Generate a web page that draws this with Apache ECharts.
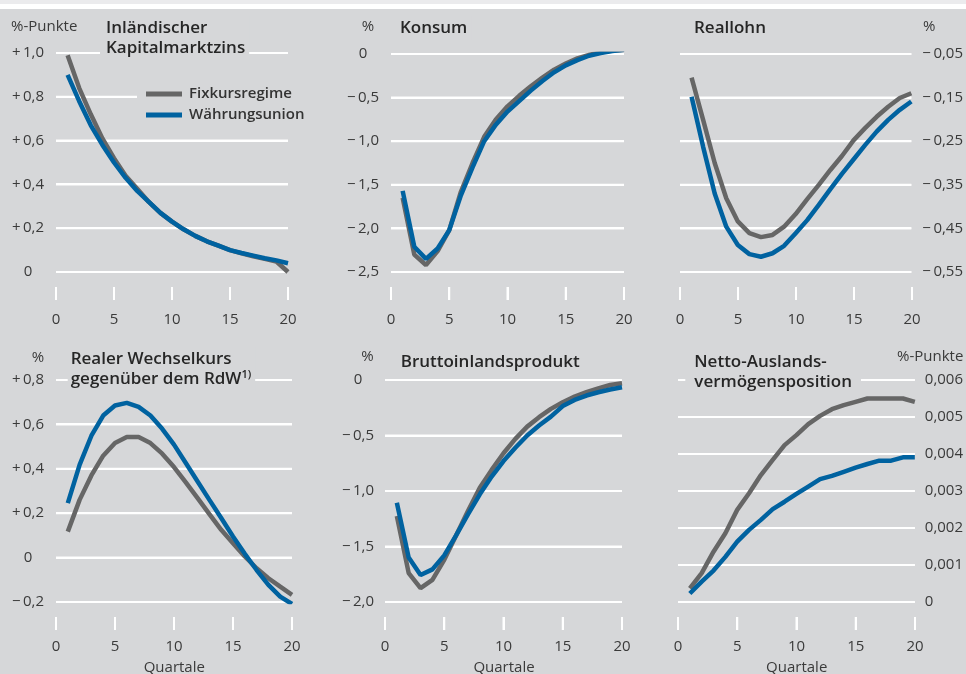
<!DOCTYPE html>
<html><head><meta charset="utf-8">
<script src="https://cdn.jsdelivr.net/npm/echarts@6/dist/echarts.min.js"></script>
<style>
html,body{margin:0;padding:0;background:#d6d7d9}
#wrap{position:relative;width:966px;height:674px;overflow:hidden}
.p{position:absolute;width:322px;height:337px}
</style>
</head><body><div id="wrap">
<div class="p" id="p0" style="left:0;top:0"></div><div class="p" id="p1" style="left:322px;top:0"></div><div class="p" id="p2" style="left:644px;top:0"></div>
<div class="p" id="p3" style="left:0;top:337px"></div><div class="p" id="p4" style="left:322px;top:337px"></div><div class="p" id="p5" style="left:644px;top:337px"></div>
</div><script>
// ---------- data ----------
const quarters = [1,2,3,4,5,6,7,8,9,10,11,12,13,14,15,16,17,18,19,20];
const seriesNames = ['Fixkursregime', 'Währungsunion'];

const zinsFix = [0.99,0.84,0.72,0.61,0.52,0.44,0.38,0.32,0.27,0.23,0.195,0.165,0.14,0.12,0.10,0.085,0.072,0.06,0.048,0.0];
const zinsWU  = [0.90,0.78,0.67,0.58,0.50,0.43,0.37,0.32,0.27,0.23,0.195,0.165,0.14,0.12,0.10,0.087,0.075,0.063,0.053,0.04];

const konsumFix = [-1.65,-2.30,-2.42,-2.26,-2.02,-1.58,-1.25,-0.95,-0.75,-0.60,-0.48,-0.37,-0.27,-0.18,-0.11,-0.05,-0.01,0.02,0.04,0.05];
const konsumWU  = [-1.57,-2.21,-2.35,-2.23,-2.02,-1.62,-1.30,-1.00,-0.81,-0.66,-0.54,-0.42,-0.31,-0.21,-0.13,-0.07,-0.02,0.01,0.035,0.05];

const lohnFix = [-0.104,-0.201,-0.300,-0.381,-0.434,-0.461,-0.470,-0.465,-0.446,-0.417,-0.383,-0.350,-0.316,-0.284,-0.248,-0.220,-0.194,-0.171,-0.151,-0.140];
const lohnWU  = [-0.148,-0.263,-0.370,-0.446,-0.488,-0.509,-0.515,-0.507,-0.490,-0.461,-0.431,-0.396,-0.360,-0.325,-0.292,-0.259,-0.228,-0.201,-0.178,-0.159];

const wkFix = [0.117,0.26,0.37,0.459,0.516,0.543,0.543,0.516,0.468,0.408,0.339,0.268,0.196,0.125,0.065,0.005,-0.048,-0.093,-0.131,-0.168];
const wkWU  = [0.245,0.418,0.549,0.640,0.685,0.697,0.679,0.640,0.580,0.509,0.426,0.343,0.260,0.178,0.095,0.017,-0.056,-0.123,-0.176,-0.209];

const bipFix = [-1.225,-1.74,-1.875,-1.80,-1.62,-1.40,-1.18,-0.97,-0.81,-0.66,-0.53,-0.42,-0.335,-0.26,-0.20,-0.15,-0.11,-0.075,-0.045,-0.03];
const bipWU  = [-1.105,-1.60,-1.757,-1.706,-1.58,-1.40,-1.21,-1.03,-0.87,-0.73,-0.61,-0.50,-0.41,-0.33,-0.235,-0.18,-0.14,-0.11,-0.085,-0.065];

const nafFix = [0.00037,0.00078,0.00136,0.00186,0.00249,0.00294,0.00343,0.00384,0.00424,0.00451,0.00481,0.00503,0.00521,0.00532,0.00541,0.0055,0.0055,0.0055,0.0055,0.00541];
const nafWU  = [0.00023,0.00055,0.00085,0.00122,0.00163,0.00195,0.00222,0.00251,0.00271,0.00292,0.00312,0.00332,0.00341,0.00352,0.00363,0.00373,0.00382,0.00382,0.00391,0.00391];

const xTickValues = [0,5,10,15,20];
const xTickLabels = ['0','5','10','15','20'];
const T = '\u2009', M = '\u2212';
const zinsTicks   = ['0','+'+T+'0,2','+'+T+'0,4','+'+T+'0,6','+'+T+'0,8','+'+T+'1,0'];
const konsumTicks = [M+T+'2,5',M+T+'2,0',M+T+'1,5',M+T+'1,0',M+T+'0,5','0'];
const lohnTicks   = [M+T+'0,55',M+T+'0,45',M+T+'0,35',M+T+'0,25',M+T+'0,15',M+T+'0,05'];
const wkTicks     = [M+T+'0,2','0','+'+T+'0,2','+'+T+'0,4','+'+T+'0,6','+'+T+'0,8'];
const bipTicks    = [M+T+'2,0',M+T+'1,5',M+T+'1,0',M+T+'0,5','0'];
const nafTicks    = ['0','0,001','0,002','0,003','0,004','0,005','0,006'];

// ---------- style / layout (page coordinates) ----------
const BG = '#d6d7d9';
const GRAY = '#666666', BLUE = '#0062a0', WHITE = '#ffffff';
const FONT = 'Open Sans';
const TXT = '#3a3a3a';
const titleStyle = {fontSize:17, fontWeight:600, fontFamily:FONT, color:'#262626', lineHeight:20,
  rich:{sup:{fontSize:11, fontWeight:600, fontFamily:FONT, color:'#262626', verticalAlign:'top', lineHeight:14}}};

const panels = [
  {ox:0, oy:0, grid:{left:56, top:53, width:232, height:219}, y:{min:0, max:1.0, interval:0.2, labels:zinsTicks, pos:'left', align:'center', margin:28}, lm:12,
   data:[zinsFix, zinsWU], title:{text:'Inländischer\nKapitalmarktzins', left:100, top:16, padding:[2,4,2,6]},
   texts:[[11, 26.7, '%-Punkte', 'left']], legend:true},
  {ox:322, oy:0, grid:{left:391, top:54, width:233, height:218}, y:{min:-2.5, max:0, interval:0.5, labels:konsumTicks, pos:'left', align:'center', margin:28}, lm:12,
   data:[konsumFix, konsumWU], title:{text:'Konsum', left:394, top:16, padding:[2,4,2,6]},
   texts:[[368, 26.7, '%', 'center']]},
  {ox:644, oy:0, grid:{left:680, top:54, width:232, height:218}, y:{min:-0.55, max:-0.05, interval:0.1, labels:lohnTicks, pos:'right', align:'left', margin:11}, lm:12,
   data:[lohnFix, lohnWU], title:{text:'Reallohn', left:688, top:16, padding:[2,4,2,6]},
   texts:[[923, 26.7, '%', 'left']]},
  {ox:0, oy:337, grid:{left:56, top:380, width:236, height:222}, y:{min:-0.2, max:0.8, interval:0.2, labels:wkTicks, pos:'left', align:'center', margin:28}, lm:9,
   data:[wkFix, wkWU], title:{text:'Realer Wechselkurs\ngegenüber dem RdW{sup|1)}', left:67.7, top:347.3, padding:[2,4,2,3]},
   texts:[[38, 357.5, '%', 'center'], [174.3, 668, 'Quartale', 'center']]},
  {ox:322, oy:337, grid:{left:385, top:380, width:237, height:222}, y:{min:-2.0, max:0, interval:0.5, labels:bipTicks, pos:'left', align:'center', margin:27}, lm:9,
   data:[bipFix, bipWU], title:{text:'Bruttoinlandsprodukt', left:394.7, top:349.7, padding:[2,4,2,6]},
   texts:[[367.5, 356.7, '%', 'center'], [504, 668, 'Quartale', 'center']]},
  {ox:644, oy:337, grid:{left:678, top:380, width:237, height:222}, y:{min:0, max:0.006, interval:0.001, labels:nafTicks, pos:'right', align:'left', margin:10}, lm:9,
   data:[nafFix, nafWU], title:{text:'Netto-Auslands-\nvermögensposition', left:685.3, top:349.7, padding:[2,9,2,9]},
   texts:[[897, 356.7, '%-Punkte', 'left'], [796.7, 668, 'Quartale', 'center']]}
];

const X0 = xTickValues[0], X1 = xTickValues[xTickValues.length - 1];

function ruleSeries(xi, yi, pts){
  return {type:'line', xAxisIndex:xi, yAxisIndex:yi, data:pts, symbol:'none', silent:true, clip:false,
    z:2, animation:false, legendHoverLink:false,
    lineStyle:{color:'#fefefe', width:2, opacity:1}, itemStyle:{color:'#fefefe'}};
}

panels.forEach((p, i) => {
  const ox = p.ox, oy = p.oy, g = p.grid;
  const ymin = p.y.min, yint = p.y.interval, labs = p.y.labels;
  const gridVals = labs.map((_, k) => ymin + k * yint);
  const mainGrid = {left:g.left - ox, top:g.top - oy, width:g.width, height:g.height};
  // strip grid under the plot that carries the x ticks and tick labels
  const tickGrid = {left:g.left - ox, top:g.top - oy + g.height + 15, width:g.width, height:13};

  const series = [];
  gridVals.forEach(v => series.push(ruleSeries(0, 0, [[X0, v], [X1, v]])));
  xTickValues.forEach(t => series.push(ruleSeries(1, 1, [[t, 0], [t, 1]])));
  [GRAY, BLUE].forEach((c, j) => series.push({
    name:seriesNames[j], type:'line', xAxisIndex:0, yAxisIndex:0,
    data: quarters.map((q, k) => [q, p.data[j][k]]),
    symbol:'none', smooth:false, z: 3 + j,
    lineStyle:{color:c, width:4.5}, itemStyle:{color:c}
  }));

  const graphic = p.texts.map(t => ({type:'text', x:t[0] - ox, y:t[1] - oy, z:100,
    style:{text:t[2], align:t[3], verticalAlign:'middle', fontSize:15, fontFamily:FONT, fill:TXT}}));
  if (oy === 0) {
    graphic.push({type:'rect', shape:{x:0, y:0, width:322, height:4}, style:{fill:'#ebebed'}, z:100});
    graphic.push({type:'rect', shape:{x:0, y:4, width:322, height:5}, style:{fill:WHITE}, z:100});
  }

  const opt = {
    backgroundColor: BG, animation:false,
    title:[Object.assign({backgroundColor:BG, z:10, textStyle:titleStyle}, p.title, {left:p.title.left - ox, top:p.title.top - oy})],
    grid:[mainGrid, tickGrid],
    xAxis:[
      {gridIndex:0, type:'value', min:X0, max:X1, interval:5, show:false},
      {gridIndex:1, type:'value', min:X0, max:X1, interval:5,
        axisLine:{show:false, onZero:false}, axisTick:{show:false}, splitLine:{show:false},
        axisLabel:{margin:p.lm, fontSize:15, fontFamily:FONT, color:TXT,
          formatter:(v)=> xTickLabels[xTickValues.indexOf(Math.round(v))] || ''}}
    ],
    yAxis:[
      {gridIndex:0, type:'value', min:p.y.min, max:p.y.max, interval:p.y.interval, position:p.y.pos,
        axisLine:{show:false, onZero:false}, axisTick:{show:false}, splitLine:{show:false},
        axisLabel:{margin:p.y.margin, align:p.y.align, fontSize:15, fontFamily:FONT, color:TXT,
          formatter:(v)=>{ const k = Math.round((v - ymin)/yint); return labs[k] !== undefined ? labs[k] : ''; }}},
      {gridIndex:1, type:'value', min:0, max:1, show:false}
    ],
    series: series,
    graphic: graphic
  };
  if (p.legend) {
    opt.legend = {
      orient:'vertical', left:137 - ox, top:80 - oy, itemWidth:36, itemHeight:5, itemGap:3, icon:'rect', z:10,
      backgroundColor:BG, padding:[5,20,5,9],
      textStyle:{fontSize:15, fontWeight:600, fontFamily:FONT, color:'#333333', lineHeight:18, padding:[0,0,0,2]},
      data:seriesNames
    };
  }
  const chart = echarts.init(document.getElementById('p' + i));
  chart.setOption(opt);

  // filled white bars for gridlines and ticks, placed through the chart's own scales
  const bars = [];
  gridVals.forEach(v => {
    const a = chart.convertToPixel({gridIndex:0}, [X0, v]);
    const b = chart.convertToPixel({gridIndex:0}, [X1, v]);
    if (a && b) bars.push({type:'rect', z:2.5, silent:true,
      shape:{x:a[0], y:Math.round(a[1]) - 1, width:b[0] - a[0], height:2}, style:{fill:WHITE}});
  });
  xTickValues.forEach(t => {
    const a = chart.convertToPixel({gridIndex:1}, [t, 0]);
    const b = chart.convertToPixel({gridIndex:1}, [t, 1]);
    if (a && b) bars.push({type:'rect', z:2.5, silent:true,
      shape:{x:Math.round(a[0]) - 1, y:b[1], width:2, height:a[1] - b[1]}, style:{fill:WHITE}});
  });
  chart.setOption({graphic: graphic.concat(bars)});
});
</script></body></html>
